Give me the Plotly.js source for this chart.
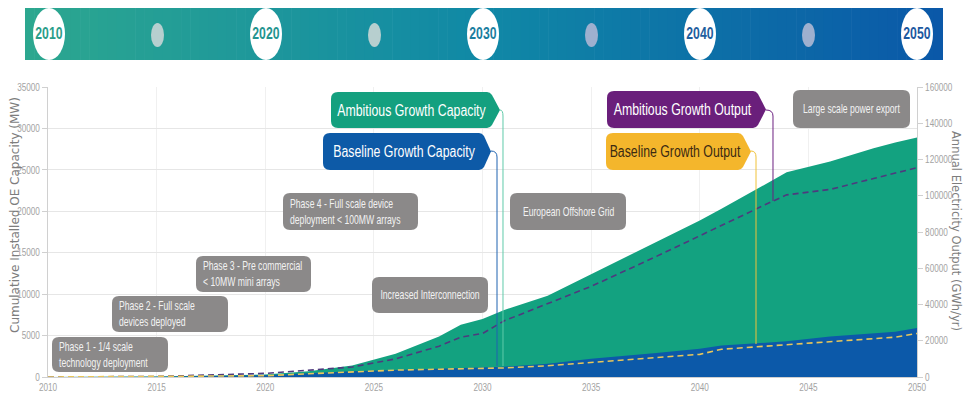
<!DOCTYPE html>
<html>
<head>
<meta charset="utf-8">
<script src="https://cdn.plot.ly/plotly-3.0.1.min.js"></script>
<style>html,body{margin:0;padding:0;background:#fff;}#chart{width:963px;height:400px;}</style>
</head>
<body>
<div id="chart"></div>
<script>
// ---------- data ----------
const years = [2010, 2015, 2020, 2022, 2024, 2026, 2028, 2029, 2030, 2031, 2033, 2035, 2038, 2040, 2041, 2043, 2044, 2046, 2048, 2049, 2050];
const ambitiousCapacityMW = [0, 50, 300, 700, 1400, 2800, 4900, 6300, 7000, 8100, 9800, 12400, 16200, 18900, 20300, 23300, 24700, 26000, 27600, 28300, 28900];
const baselineCapacityMW  = [0, 20, 200, 450, 700, 850, 1000, 1080, 1150, 1250, 1600, 2200, 2900, 3400, 3800, 4100, 4300, 4900, 5250, 5450, 5900];
const ambitiousOutputGWh  = [0, 300, 2000, 3800, 5500, 10000, 17000, 22000, 24000, 31000, 40500, 50000, 66500, 78000, 83500, 95000, 100500, 103500, 109500, 112500, 115500];
const baselineOutputGWh   = [0, 200, 700, 1800, 3000, 3800, 4300, 4500, 4800, 5000, 6200, 8000, 10500, 12500, 15300, 17000, 18000, 19500, 21000, 22000, 24000];

const xTicks = [2010, 2015, 2020, 2025, 2030, 2035, 2040, 2045, 2050];
const leftTicks = [0, 5000, 10000, 15000, 20000, 25000, 30000, 35000];
const rightTicks = [0, 20000, 40000, 60000, 80000, 100000, 120000, 140000, 160000];
const bannerYears = ['2010', '2020', '2030', '2040', '2050'];

const seriesNames = ['Ambitious Growth Capacity', 'Baseline Growth Capacity', 'Ambitious Growth Output', 'Baseline Growth Output'];
const phaseLabels = [
  'Phase 1 - 1/4 scale<br>technology deployment',
  'Phase 2 - Full scale<br>devices deployed',
  'Phase 3 - Pre commercial<br>< 10MW mini arrays',
  'Phase 4 - Full scale device<br>deployment < 100MW arrays'
];
const milestoneLabels = ['Increased Interconnection', 'European Offshore Grid', 'Large scale power export'];
const leftTitle = 'Cumulative Installed OE Capacity (MW)';
const rightTitle = 'Annual Electricity Output (GWh/yr)';

// ---------- geometry helpers (pixel -> paper) ----------
const W = 963, H = 400;
const L = 48, R = 917, T = 87, B = 377;
const X = px => (px - L) / (R - L);
const Y = py => (B - py) / (B - T);
const P = (px, py) => X(px).toFixed(5) + ',' + Y(py).toFixed(5);

function rrPath(x0, y0, x1, y1, r) {
  return 'M' + P(x0 + r, y0) + ' L' + P(x1 - r, y0) + ' Q' + P(x1, y0) + ' ' + P(x1, y0 + r) +
    ' L' + P(x1, y1 - r) + ' Q' + P(x1, y1) + ' ' + P(x1 - r, y1) +
    ' L' + P(x0 + r, y1) + ' Q' + P(x0, y1) + ' ' + P(x0, y1 - r) +
    ' L' + P(x0, y0 + r) + ' Q' + P(x0, y0) + ' ' + P(x0 + r, y0) + ' Z';
}
function calloutPath(x0, y0, x1, y1, tip, r) {
  const ym = (y0 + y1) / 2;
  return 'M' + P(x0 + r, y0) + ' L' + P(x1 - 3, y0) + ' Q' + P(x1, y0) + ' ' + P(x1 + 2, y0 + 3) +
    ' L' + P(tip, ym) + ' L' + P(x1 + 2, y1 - 3) + ' Q' + P(x1, y1) + ' ' + P(x1 - 3, y1) +
    ' L' + P(x0 + r, y1) + ' Q' + P(x0, y1) + ' ' + P(x0, y1 - r) +
    ' L' + P(x0, y0 + r) + ' Q' + P(x0, y0) + ' ' + P(x0 + r, y0) + ' Z';
}
function leaderPath(tip, ym, lx, bottom) {
  return 'M' + P(tip, ym) + ' Q' + P(lx, ym) + ' ' + P(lx, ym + 6) + ' L' + P(lx, bottom);
}

const shapes = [];
const annotations = [];
const condense = [];   // horizontal squeeze factor per annotation (emulates a condensed face)
const sans = '"Liberation Sans", Arial, sans-serif';
function addAnn(a, squeeze) { annotations.push(a); condense.push(squeeze || 1); }

// ---------- top banner with gradient ----------
const bx0 = 25, bx1 = 943, by0 = 8, by1 = 60;
const stops = [[0, [44, 167, 143]], [0.5, [16, 136, 166]], [1, [10, 88, 168]]];
function grad(t) {
  for (let i = 0; i < stops.length - 1; i++) {
    const [a, ca] = stops[i], [b, cb] = stops[i + 1];
    if (t >= a && t <= b) {
      const u = (t - a) / (b - a);
      return 'rgb(' + ca.map((c, k) => Math.round(c + (cb[k] - c) * u)).join(',') + ')';
    }
  }
  return 'rgb(10,88,168)';
}
const nStep = 100;
for (let i = 0; i < nStep; i++) {
  const a = bx0 + (bx1 - bx0) * i / nStep, b = bx0 + (bx1 - bx0) * (i + 1) / nStep + 0.6;
  shapes.push({type: 'rect', xref: 'paper', yref: 'paper', x0: X(a), x1: X(Math.min(b, bx1)), y0: Y(by1), y1: Y(by0),
    fillcolor: grad(i / (nStep - 1)), line: {width: 0}, layer: 'above'});
}
const circleSpacing = 217, firstCircle = 49;
const yearColors = ['#2a9d89', '#23948f', '#1a7e9f', '#1f5e9e', '#1c589f'];
bannerYears.forEach((yr, i) => {
  const cx = firstCircle + i * circleSpacing;
  shapes.push({type: 'circle', xref: 'paper', yref: 'paper', x0: X(cx - 16), x1: X(cx + 16), y0: Y(60), y1: Y(8),
    fillcolor: '#ffffff', line: {width: 0}, layer: 'above'});
  addAnn({xref: 'paper', yref: 'paper', x: X(cx), y: Y(34), text: '<b>' + yr + '</b>', showarrow: false,
    xanchor: 'center', yanchor: 'middle', font: {family: sans, size: 17, color: yearColors[i]}}, 0.72);
  if (i < bannerYears.length - 1) {
    const dx = cx + circleSpacing / 2;
    const dcol = i < 2 ? '#b7cfcf' : '#9eb0cf';
    shapes.push({type: 'circle', xref: 'paper', yref: 'paper', x0: X(dx - 6.5), x1: X(dx + 6.5), y0: Y(47), y1: Y(23),
      fillcolor: dcol, line: {width: 0}, layer: 'above'});
  }
});

// ---------- leader lines ----------
shapes.push({type: 'path', xref: 'paper', yref: 'paper', path: leaderPath(500, 110, 503, 366), line: {color: '#5fcaa9', width: 1}, layer: 'above'});
shapes.push({type: 'path', xref: 'paper', yref: 'paper', path: leaderPath(491, 151, 497, 366), line: {color: '#1f63b0', width: 1}, layer: 'above'});
shapes.push({type: 'path', xref: 'paper', yref: 'paper', path: leaderPath(766, 110, 773, 201), line: {color: '#6b2080', width: 1}, layer: 'above'});
shapes.push({type: 'path', xref: 'paper', yref: 'paper', path: leaderPath(751, 151, 756, 344), line: {color: '#f0c238', width: 1}, layer: 'above'});

// ---------- colored callouts ----------
const callouts = [
  {box: [331, 92, 490, 128], tip: 500, fill: '#14a07f', color: '#ffffff'},
  {box: [323, 133, 482, 170], tip: 491, fill: '#0d5aa7', color: '#ffffff'},
  {box: [607, 91, 756, 128], tip: 766, fill: '#6a1f7b', color: '#ffffff'},
  {box: [606, 133, 741, 170], tip: 751, fill: '#f4b62c', color: '#3b2a12'}
];
callouts.forEach((c, i) => {
  const [x0, y0, x1, y1] = c.box;
  shapes.push({type: 'path', xref: 'paper', yref: 'paper', path: calloutPath(x0, y0, x1, y1, c.tip, 7),
    fillcolor: c.fill, line: {width: 0}, layer: 'above'});
  addAnn({xref: 'paper', yref: 'paper', x: X((x0 + x1) / 2 + 1), y: Y((y0 + y1) / 2), text: seriesNames[i],
    showarrow: false, xanchor: 'center', yanchor: 'middle', font: {family: sans, size: 16, color: c.color}}, 0.77);
});

// ---------- gray phase / milestone boxes ----------
const grayBoxes = [
  {box: [52, 337, 168, 372], text: phaseLabels[0], align: 'left'},
  {box: [112, 296, 228, 332], text: phaseLabels[1], align: 'left'},
  {box: [196, 256, 311, 292], text: phaseLabels[2], align: 'left'},
  {box: [283, 193, 418, 230], text: phaseLabels[3], align: 'left'},
  {box: [372, 277, 488, 313], text: milestoneLabels[0], align: 'center'},
  {box: [510, 193, 626, 230], text: milestoneLabels[1], align: 'center'},
  {box: [793, 90, 910, 128], text: milestoneLabels[2], align: 'center'}
];
grayBoxes.forEach(g => {
  const [x0, y0, x1, y1] = g.box;
  shapes.push({type: 'path', xref: 'paper', yref: 'paper', path: rrPath(x0, y0, x1, y1, 7),
    fillcolor: '#8b8989', line: {width: 0}, layer: 'above'});
  const left = g.align === 'left';
  addAnn({xref: 'paper', yref: 'paper', x: left ? X(x0 + 5) : X((x0 + x1) / 2), y: Y((y0 + y1) / 2),
    text: g.text, showarrow: false, xanchor: left ? 'left' : 'center', yanchor: 'middle', align: g.align,
    font: {family: sans, size: 12, color: '#f2f2f2'}}, 0.72);
});

// ---------- axis titles ----------
addAnn({xref: 'paper', yref: 'paper', x: X(15), y: Y(215), text: leftTitle, textangle: -90, showarrow: false,
  xanchor: 'center', yanchor: 'middle', font: {family: '"DejaVu Sans", sans-serif', size: 12, color: '#7d7d7d'}}, 1);
addAnn({xref: 'paper', yref: 'paper', x: X(956), y: Y(231), text: rightTitle, textangle: 90, showarrow: false,
  xanchor: 'center', yanchor: 'middle', font: {family: '"DejaVu Sans", sans-serif', size: 11.5, color: '#7d7d7d'}}, 1);

// ---------- traces ----------
const traces = [
  {x: years, y: ambitiousCapacityMW, type: 'scatter', mode: 'lines', fill: 'tozeroy', fillcolor: '#13a280',
    line: {width: 0, color: '#13a280'}, name: seriesNames[0], hoverinfo: 'skip'},
  {x: years, y: baselineCapacityMW, type: 'scatter', mode: 'lines', fill: 'tozeroy', fillcolor: '#0c59a9',
    line: {width: 0, color: '#0c59a9'}, name: seriesNames[1], hoverinfo: 'skip'},
  {x: years, y: ambitiousOutputGWh, yaxis: 'y2', type: 'scatter', mode: 'lines',
    line: {color: '#4e3a7e', width: 1.6, dash: '6px,4px'}, name: seriesNames[2], hoverinfo: 'skip'},
  {x: years, y: baselineOutputGWh, yaxis: 'y2', type: 'scatter', mode: 'lines',
    line: {color: '#e9c75a', width: 1.6, dash: '6px,4px'}, name: seriesNames[3], hoverinfo: 'skip'}
];

const tickFont = {family: sans, size: 10.5, color: '#a3a3a3'};
const layout = {
  width: W, height: H,
  margin: {l: L, r: W - R, t: T, b: H - B, pad: 0},
  paper_bgcolor: '#ffffff', plot_bgcolor: '#ffffff',
  showlegend: false,
  xaxis: {range: [2010, 2050], tickvals: xTicks, ticktext: xTicks.map(String), showgrid: true, gridcolor: '#f0f0f0',
    zeroline: false, showline: true, linecolor: '#d0d0d0', ticks: '', tickfont: tickFont, fixedrange: true},
  yaxis: {range: [0, 35000], tickvals: leftTicks, ticktext: leftTicks.map(String), showgrid: true, gridcolor: '#e6e6e6',
    zeroline: false, showline: true, linecolor: '#d0d0d0', ticks: 'outside', ticklen: 5, tickcolor: '#d0d0d0',
    tickfont: tickFont, fixedrange: true},
  yaxis2: {range: [0, 160000], overlaying: 'y', side: 'right', tickvals: rightTicks, ticktext: rightTicks.map(String),
    showgrid: false, zeroline: false, showline: true, linecolor: '#d0d0d0', ticks: 'outside', ticklen: 5,
    tickcolor: '#d0d0d0', tickfont: tickFont, fixedrange: true},
  shapes: shapes,
  annotations: annotations
};

// squeeze a text element horizontally around its left edge, centre or right edge
function squeeze(el, s, mode) {
  if (!el || s === 1) return;
  const bb = el.getBBox();
  const a = mode === 'left' ? bb.x : mode === 'right' ? bb.x + bb.width : bb.x + bb.width / 2;
  const prev = el.getAttribute('transform') || '';
  el.setAttribute('transform', (prev + ' translate(' + a + ',0) scale(' + s + ',1) translate(' + (-a) + ',0)').trim());
}

Plotly.newPlot('chart', traces, layout, {displayModeBar: false, staticPlot: true}).then(gd => {
  gd.querySelectorAll('g.annotation').forEach(g => {
    const idx = +g.getAttribute('data-index');
    const s = condense[idx] || 1;
    const ann = annotations[idx];
    squeeze(g.querySelector('text.annotation-text'), s, ann.xanchor === 'left' ? 'left' : 'center');
  });
  gd.querySelectorAll('g.xtick text').forEach(t => squeeze(t, 0.78, 'center'));
  gd.querySelectorAll('g.ytick text').forEach(t => squeeze(t, 0.78, 'right'));
  gd.querySelectorAll('g.y2tick text').forEach(t => squeeze(t, 0.78, 'left'));
});
</script>
</body>
</html>
